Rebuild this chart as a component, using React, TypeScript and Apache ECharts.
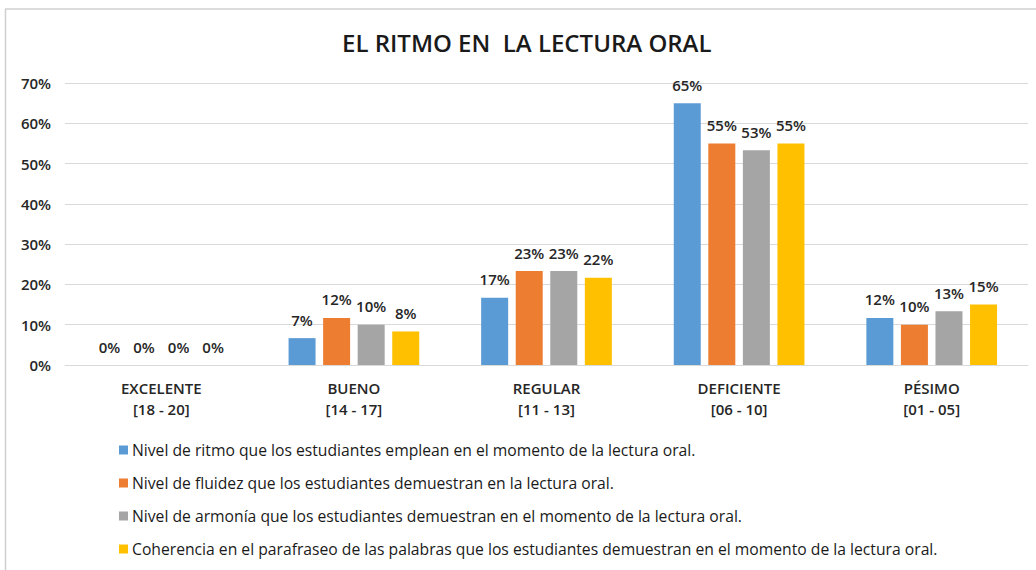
import React, { useEffect, useRef } from "react";
import * as echarts from "echarts";

const categories = ["EXCELENTE\n[18 - 20]", "BUENO\n[14 - 17]", "REGULAR\n[11 - 13]", "DEFICIENTE\n[06 - 10]", "PÉSIMO\n[01 - 05]"];
const seriesNames = [
  "Nivel de ritmo que los estudiantes emplean en el momento de la lectura oral.",
  "Nivel de fluidez que los estudiantes demuestran en la lectura oral.",
  "Nivel de armonía que los estudiantes demuestran en el momento de la lectura oral.",
  "Coherencia en el parafraseo de las palabras que los estudiantes demuestran en el momento de la lectura oral.",
];
const ritmo = [0, 6.67, 16.67, 65, 11.67];
const fluidez = [0, 11.67, 23.33, 55, 10];
const armonia = [0, 10, 23.33, 53.33, 13.33];
const coherencia = [0, 8.33, 21.67, 55, 15];
const colors = ["#5B9BD5", "#ED7D31", "#A5A5A5", "#FFC000"];
const yTicks = [0, 10, 20, 30, 40, 50, 60, 70];

const FONT = "'Open Sans', 'Noto Sans', sans-serif";

export default function App() {
  const ref = useRef<HTMLDivElement>(null);
  useEffect(() => {
    if (!ref.current) return;
    const chart = echarts.init(ref.current, null, { renderer: "svg" });
    const data = [ritmo, fluidez, armonia, coherencia];
    chart.setOption({
      animation: false,
      backgroundColor: "#ffffff",
      textStyle: { fontFamily: FONT },
      title: {
        text: "EL RITMO EN  LA LECTURA ORAL",
        left: 337,
        top: 25,
        textStyle: { fontFamily: FONT, fontSize: 24, fontWeight: 600, color: "#1a1a1a" },
      },
      graphic: [
        { type: "line", shape: { x1: 5, y1: 9, x2: 1036, y2: 9 }, style: { stroke: "#d0d0d0", lineWidth: 1.5 } },
        { type: "line", shape: { x1: 5.5, y1: 9, x2: 5.5, y2: 570 }, style: { stroke: "#d0d0d0", lineWidth: 1.5 } },
      ],
      grid: { left: 65, right: 8, top: 83, bottom: 205, containLabel: false },
      legend: {
        orient: "vertical",
        left: 114,
        top: 437,
        itemWidth: 9,
        itemHeight: 9,
        itemGap: 17,
        icon: "rect",
        textStyle: { fontFamily: FONT, fontSize: 15.7, color: "#1a1a1a", padding: [0, 0, 0, -1] },
        data: seriesNames,
      },
      xAxis: {
        type: "category",
        data: categories,
        axisLine: { lineStyle: { color: "#d9d9d9" } },
        axisTick: { show: false },
        axisLabel: {
          fontFamily: FONT,
          fontSize: 15,
          fontWeight: 600,
          color: "#262626",
          lineHeight: 21,
          margin: 12,
        },
      },
      yAxis: {
        type: "value",
        min: 0,
        max: 70,
        interval: 10,
        axisLine: { show: false },
        axisTick: { show: false },
        splitLine: { lineStyle: { color: "#d9d9d9" } },
        axisLabel: {
          fontFamily: FONT,
          fontSize: 15,
          fontWeight: 600,
          color: "#262626",
          margin: 14,
          formatter: (v: number) => (yTicks.includes(v) ? v + "%" : ""),
        },
      },
      series: data.map((d, i) => ({
        name: seriesNames[i],
        type: "bar",
        data: d,
        barWidth: 27,
        barGap: "28%",
        itemStyle: { color: colors[i] },
        label: {
          show: true,
          position: "top",
          distance: 11,
          fontFamily: FONT,
          fontSize: 15,
          fontWeight: 600,
          color: "#262626",
          formatter: (p: any) => Math.round(p.value) + "%",
        },
      })),
    });
    return () => chart.dispose();
  }, []);
  return <div ref={ref} style={{ position: "fixed", left: 0, top: 0, width: 1036, height: 570 }} />;
}
